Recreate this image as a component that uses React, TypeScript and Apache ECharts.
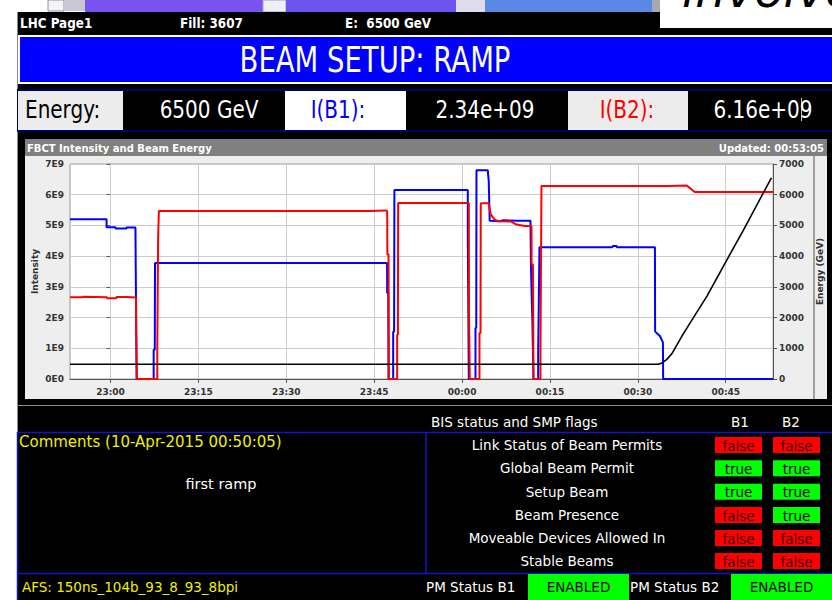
import React, { useEffect, useRef } from "react";
import * as echarts from "echarts";

// ---- data ----
const timeTicks = [0, 15, 30, 45, 60, 75, 90, 105]; // minutes after 23:00
const timeLabels = ["23:00", "23:15", "23:30", "23:45", "00:00", "00:15", "00:30", "00:45"];
const timeMin = -6.92; // 22:53:05
const timeMax = 113.08; // 00:53:05
const intensityLabels = ["0E0", "1E9", "2E9", "3E9", "4E9", "5E9", "6E9", "7E9"];

// [minutes after 23:00, intensity in units of 1E9]
const beam1: [number, number][] = [
  [-6.92, 5.2], [-0.68, 5.2], [-0.68, 4.94], [0.85, 4.94], [0.85, 4.9], [2.72, 4.9], [2.72, 4.93],
  [4.25, 4.93], [4.3, 3.6], [4.45, 0], [7.36, 0], [7.36, 0.95], [7.55, 0.95], [7.59, 3.78],
  [47.2, 3.78], [47.22, 2.8], [47.4, 2.8], [47.45, 0], [48.24, 0], [48.24, 1.54], [48.4, 1.54],
  [48.45, 6.15], [60.98, 6.15], [60.98, 4.6], [61.1, 4.6], [61.15, 0], [62.29, 0], [62.29, 1.66],
  [62.42, 1.66], [62.46, 6.8], [64.38, 6.8], [64.55, 6.45], [64.72, 5.15], [66.5, 5.14],
  [67.0, 5.17], [69.5, 5.15], [71.68, 5.15], [71.75, 3.73], [72.0, 1.9], [72.19, 0], [72.99, 0],
  [72.99, 0.85], [73.1, 0.85], [73.21, 4.29], [85.61, 4.29], [85.75, 4.33], [86.35, 4.33],
  [86.46, 4.29], [92.92, 4.29], [92.95, 1.55], [93.2, 1.5], [93.77, 1.4], [94.28, 1.19],
  [94.32, 0], [113.08, 0],
];
const beam2: [number, number][] = [
  [-6.92, 2.66], [-4.98, 2.66], [-4.98, 2.68], [-4.6, 2.68], [-4.6, 2.66], [-0.6, 2.66],
  [-0.6, 2.63], [1.0, 2.63], [1.0, 2.67], [2.7, 2.67], [2.7, 2.65], [4.35, 2.65], [4.35, 2.0],
  [4.45, 2.0], [4.5, 0], [7.98, 0], [7.98, 1.0], [8.1, 1.0], [8.12, 4.6], [8.22, 4.6],
  [8.25, 5.47], [44.2, 5.47], [44.2, 5.49], [46.9, 5.49], [46.95, 5.47], [47.22, 5.47],
  [47.25, 4.05], [47.45, 4.05], [47.5, 0], [48.92, 0], [48.92, 1.44], [49.05, 1.44],
  [49.09, 5.73], [61.15, 5.73], [61.18, 2.16], [61.3, 2.16], [61.32, 0], [62.97, 0],
  [62.97, 1.5], [63.15, 1.5], [63.19, 5.72], [64.55, 5.72], [64.89, 5.36], [65.52, 5.2],
  [66.08, 5.14], [68.29, 5.13], [69.14, 5.04], [70.66, 4.98], [71.85, 4.98], [71.87, 3.73],
  [72.1, 3.73], [72.19, 0], [73.38, 0], [73.38, 0.85], [73.5, 0.85], [73.55, 6.28],
  [95.24, 6.28], [95.24, 6.3], [98.35, 6.3], [99.71, 6.09], [113.08, 6.09],
];
// [minutes after 23:00, GeV]
const energy: [number, number][] = [
  [-6.92, 480], [93.54, 480], [94.1, 520], [94.95, 640], [95.8, 820], [96.65, 1100],
  [97.7, 1450], [98.9, 1820], [101.8, 2700], [104.85, 3760], [108, 4840], [112.8, 6550],
];

const flagNames = [
  "Link Status of Beam Permits",
  "Global Beam Permit",
  "Setup Beam",
  "Beam Presence",
  "Moveable Devices Allowed In",
  "Stable Beams",
];
const flagsB1 = [false, true, true, false, false, false];
const flagsB2 = [false, true, true, true, false, false];

const FONT = '"DejaVu Sans", sans-serif';

function rect(x: number, y: number, w: number, h: number, fill: string, z = -5, extra: any = {}) {
  return { type: "rect", z, silent: true, shape: { x, y, width: w, height: h }, style: { fill, ...extra } };
}
function line(x1: number, y1: number, x2: number, y2: number, stroke: string, w = 1, z = -4) {
  return { type: "line", z, silent: true, shape: { x1, y1, x2, y2 }, style: { stroke, lineWidth: w } };
}
function txt(x: number, y: number, text: string, size: number, fill: string, align = "left", opts: any = {}) {
  const { weight, style, scaleY, z, valign, ...rest } = opts;
  const va = valign ?? "middle";
  return {
    type: "text",
    z: z ?? 10,
    silent: true,
    x,
    y,
    scaleY: scaleY ?? 1,
    style: {
      text,
      fill,
      fontSize: size,
      fontFamily: FONT,
      fontWeight: weight ?? "normal",
      fontStyle: style ?? "normal",
      align,
      verticalAlign: va,
      textAlign: align,
      textVerticalAlign: va,
      ...rest,
    },
  };
}

export default function App() {
  const ref = useRef<HTMLDivElement>(null);
  useEffect(() => {
    if (!ref.current) return;
    const chart = echarts.init(ref.current, undefined, { renderer: "svg" });

    const g: any[] = [];
    // page background
    g.push(rect(0, 0, 832, 600, "#ffffff", -20));
    // screenshot fragments at top
    g.push(rect(48, 0, 16, 11, "#f4f4f8", -15, { stroke: "#9090a0", lineWidth: 1 }));
    g.push(rect(64, 0, 21, 11, "#c8c8d4", -15));
    g.push(rect(85, 0, 178, 12, "#7a52f0", -15));
    g.push(rect(263, 0, 23, 12, "#eeeef8", -15, { stroke: "#a0a0c0", lineWidth: 1 }));
    g.push(rect(286, 0, 170, 12, "#6c54ee", -15));
    g.push(rect(456, 0, 29, 12, "#dcdcec", -15));
    g.push(rect(485, 0, 167, 12, "#5a88e4", -15));
    g.push(rect(652, 0, 8, 12, "#a8a8b4", -15));
    // main black panel
    g.push(rect(17, 12, 815, 588, "#000000", -14));
    g.push(line(17.5, 12, 17.5, 432, "#8a8a8a", 1, -13));
    // header bar texts
    g.push(txt(20, 23, "LHC Page1", 12, "#ffffff", "left", { weight: "bold", scaleY: 1.15 }));
    g.push(txt(180, 23, "Fill: 3607", 12, "#ffffff", "left", { weight: "bold", scaleY: 1.15 }));
    g.push(txt(345, 23, "E:  6500 GeV", 12, "#ffffff", "left", { weight: "bold", scaleY: 1.15 }));
    // white box with "involve" (cut at the top edge, as in the source screenshot)
    g.push(rect(660, 0, 172, 28, "#ffffff", 20));
    g.push(txt(682, 14, "involve", 48, "#000000", "left", { style: "italic", z: 21, valign: "bottom" }));
    // title bar
    g.push(rect(18, 35, 814, 49, "#ffffff", -12));
    g.push(rect(20, 37, 812, 45, "#0000ff", -11));
    g.push(txt(375, 60, "BEAM SETUP: RAMP", 27.5, "#ffffff", "center", { scaleY: 1.32 }));
    // energy row
    g.push(rect(17, 89, 815, 43, "#00006a", -12));
    g.push(rect(18, 91, 105, 39, "#ececec", -11));
    g.push(rect(123, 91, 162, 39, "#000000", -11));
    g.push(rect(285, 91, 121, 39, "#ffffff", -11));
    g.push(rect(406, 91, 162, 39, "#000000", -11));
    g.push(rect(568, 91, 120, 39, "#ececec", -11));
    g.push(rect(688, 91, 144, 39, "#000000", -11));
    g.push(txt(25, 109, "Energy:", 20, "#000000", "left", { scaleY: 1.28 }));
    g.push(txt(209, 109, "6500 GeV", 20, "#ffffff", "center", { scaleY: 1.28 }));
    g.push(txt(338, 109, "I(B1):", 20, "#0000ff", "center", { scaleY: 1.28 }));
    g.push(txt(485, 109, "2.34e+09", 20, "#ffffff", "center", { scaleY: 1.28 }));
    g.push(txt(627, 109, "I(B2):", 20, "#ff0000", "center", { scaleY: 1.28 }));
    g.push(txt(763, 109, "6.16e+09", 20, "#ffffff", "center", { scaleY: 1.28 }));
    g.push(line(801.5, 98, 801.5, 121, "#c0c0c0", 1, -10));
    // chart panel
    g.push(rect(25, 139, 802, 260, "#eeeeee", -10));
    g.push(rect(25, 139, 802, 17, "#808080", -9));
    g.push(txt(27, 148, "FBCT Intensity and Beam Energy", 10, "#ffffff", "left", { weight: "bold" }));
    g.push(txt(824, 148, "Updated: 00:53:05", 10, "#ffffff", "right", { weight: "bold" }));
    g.push(line(814, 156, 814, 399, "#555555", 1, -8));
    // bottom area
    g.push(line(17, 405.5, 832, 405.5, "#8a8a8a", 1, -8));
    g.push(txt(431, 422, "BIS status and SMP flags", 13.5, "#ffffff", "left"));
    g.push(txt(740, 422, "B1", 13.5, "#ffffff", "center"));
    g.push(txt(791, 422, "B2", 13.5, "#ffffff", "center"));
    g.push(line(17, 432.5, 832, 432.5, "#1515c8", 1.5, -8));
    g.push(line(17.5, 432, 17.5, 600, "#1515c8", 1.5, -8));
    g.push(line(426, 432, 426, 573, "#1515c8", 1.5, -8));
    g.push(line(17, 573.5, 832, 573.5, "#1515c8", 1.5, -8));
    g.push(txt(19, 442, "Comments (10-Apr-2015 00:50:05)", 15, "#f0f000", "left"));
    g.push(txt(221, 484, "first ramp", 14.5, "#ffffff", "center"));
    const rowY = [445, 468.3, 491.7, 515, 538, 561];
    flagNames.forEach((name, i) => {
      const y = rowY[i];
      g.push(txt(567, y, name, 13.5, "#ffffff", "center"));
      const cells: [number, boolean][] = [[715, flagsB1[i]], [773, flagsB2[i]]];
      cells.forEach(([x, v]) => {
        g.push(rect(x, y - 8, 47, 16, v ? "#00ff00" : "#ff0000", -7));
        g.push(txt(x + 23.5, y + 0.5, v ? "true" : "false", 13.5, v ? "#000000" : "#3a0000", "center"));
      });
    });
    g.push(txt(22, 587, "AFS: 150ns_104b_93_8_93_8bpi", 13.5, "#f0f000", "left"));
    g.push(txt(426, 587, "PM Status B1", 13.5, "#ffffff", "left"));
    g.push(rect(528, 574, 101, 26, "#00ff00", -7));
    g.push(txt(578.5, 587, "ENABLED", 13.5, "#000000", "center"));
    g.push(txt(630, 587, "PM Status B2", 13.5, "#ffffff", "left"));
    g.push(rect(731, 574, 101, 26, "#00ff00", -7));
    g.push(txt(781.5, 587, "ENABLED", 13.5, "#000000", "center"));

    const axisText = { color: "#333333", fontSize: 9, fontWeight: "bold", fontFamily: FONT };

    chart.setOption({
      animation: false,
      backgroundColor: "transparent",
      graphic: { elements: g },
      grid: {
        left: 70,
        right: 55,
        top: 164,
        bottom: 221,
        show: true,
        backgroundColor: "#ffffff",
        borderColor: "#9a9a9a",
        borderWidth: 1,
      },
      xAxis: {
        type: "value",
        min: timeMin,
        max: timeMax,
        axisLine: { show: true, onZero: false, lineStyle: { color: "#555555" } },
        axisTick: { show: true, customValues: timeTicks, length: 4, lineStyle: { color: "#555555" } },
        axisLabel: {
          customValues: timeTicks,
          formatter: (v: number) => timeLabels[timeTicks.indexOf(Math.round(v))] ?? "",
          margin: 8,
          ...axisText,
        },
        splitLine: { show: false },
      },
      yAxis: [
        {
          type: "value",
          min: 0,
          max: 7,
          interval: 1,
          position: "left",
          name: "Intensity",
          nameLocation: "middle",
          nameRotate: 90,
          nameGap: 31,
          nameMoveOverlap: false,
          nameTextStyle: { color: "#333333", fontSize: 9, fontWeight: "bold", fontFamily: FONT },
          axisLine: { show: true, lineStyle: { color: "#555555" } },
          axisTick: { show: true, length: 4, lineStyle: { color: "#555555" } },
          axisLabel: {
            formatter: (v: number) => intensityLabels[Math.round(v)],
            margin: 6,
            ...axisText,
          },
          splitLine: { show: true, lineStyle: { color: "#cccccc", width: 1 } },
        },
        {
          type: "value",
          min: 0,
          max: 7000,
          interval: 1000,
          position: "right",
          name: "Energy (GeV)",
          nameLocation: "middle",
          nameRotate: 90,
          nameGap: 37,
          nameTextStyle: { color: "#333333", fontSize: 9, fontWeight: "bold", fontFamily: FONT },
          axisLine: { show: true, lineStyle: { color: "#555555" } },
          axisTick: { show: true, length: 4, lineStyle: { color: "#555555" } },
          axisLabel: { margin: 6, formatter: (v: number) => String(v), ...axisText },
          splitLine: { show: false },
        },
      ],
      series: [
        {
          name: "grid",
          type: "line",
          yAxisIndex: 0,
          data: [],
          silent: true,
          z: 1,
          markLine: {
            z: 1,
            silent: true,
            symbol: "none",
            animation: false,
            label: { show: false },
            lineStyle: { color: "#cccccc", width: 1, type: "solid" },
            data: timeTicks.map((t) => ({ xAxis: t })),
          },
        },
        {
          name: "B1",
          type: "line",
          yAxisIndex: 0,
          data: beam1,
          symbol: "none",
          lineStyle: { color: "#0000ff", width: 2 },
          itemStyle: { color: "#0000ff" },
          z: 2,
        },
        {
          name: "B2",
          type: "line",
          yAxisIndex: 0,
          data: beam2,
          symbol: "none",
          lineStyle: { color: "#ff0000", width: 2 },
          itemStyle: { color: "#ff0000" },
          z: 3,
        },
        {
          name: "Energy",
          type: "line",
          yAxisIndex: 1,
          data: energy,
          symbol: "none",
          lineStyle: { color: "#000000", width: 1.6 },
          itemStyle: { color: "#000000" },
          z: 4,
        },
      ],
    });
    return () => chart.dispose();
  }, []);
  return <div ref={ref} style={{ position: "absolute", left: 0, top: 0, width: 832, height: 600 }} />;
}
